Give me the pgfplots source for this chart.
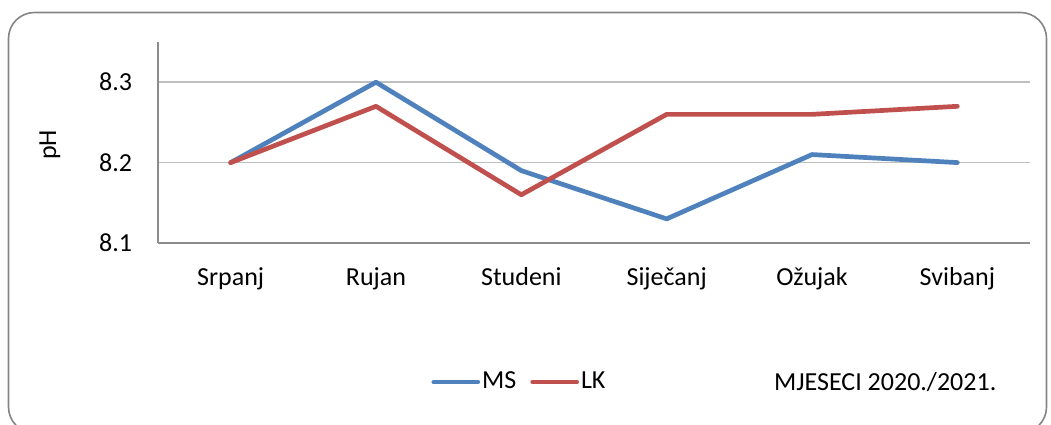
\documentclass[border=0pt]{standalone}
\usepackage{fontspec}
\setmainfont{Carlito}
\usepackage{pgfplots}
\pgfplotsset{compat=1.18}
\definecolor{msblue}{HTML}{4F81BD}
\definecolor{lkred}{HTML}{C0504D}
\begin{document}
\fontsize{26}{31}\selectfont
\begin{tikzpicture}[x=1pt,y=1pt]
\useasboundingbox (0,0) rectangle (1051,425);
\draw[color=black!48, line width=1.6pt, rounded corners=26pt] (8.5,412.5) rectangle (1046.5,-8);
\begin{axis}[
  at={(158pt,182pt)}, anchor=south west,
  scale only axis, width=872pt, height=201pt,
  xmin=-0.5, xmax=5.5, ymin=8.1, ymax=8.35,
  xtick={0,1,2,3,4,5},
  xticklabels={Srpanj,Rujan,Studeni,Siječanj,Ožujak,Svibanj},
  ytick={8.1,8.2,8.3}, yticklabels={8.1,8.2,8.3},
  ymajorgrids, grid style={color=black!25, line width=1.5pt},
  axis lines*=left,
  axis line style={color=black!45, line width=1.5pt, -},
  major tick length=0pt,
  tick label style={font=\fontsize{26}{31}\selectfont},
  xticklabel style={yshift=-16pt},
  yticklabel style={xshift=-17pt},
  ylabel={pH},
  ylabel style={at={(axis description cs:-0.124,0.4876)}, anchor=center, font=\fontsize{26}{31}\selectfont},
  xlabel={MJESECI 2020./2021.},
  xlabel style={at={(axis description cs:0.834,-0.692)}, anchor=center, font=\fontsize{26}{31}\selectfont},
  legend style={at={(axis description cs:0.4145,-0.692)}, anchor=center, draw=none, fill=none,
    font=\fontsize{26}{31}\selectfont, /tikz/every even column/.append style={column sep=12pt}},
  legend columns=2,
  legend image code/.code={\draw[#1] (0pt,0pt) -- (44pt,0pt);},
  every axis plot/.append style={line width=4.7pt, line cap=round, line join=round},
]
\addplot[color=msblue] coordinates {(0,8.20) (1,8.30) (2,8.19) (3,8.13) (4,8.21) (5,8.20)};
\addlegendentry{MS}
\addplot[color=lkred] coordinates {(0,8.20) (1,8.27) (2,8.16) (3,8.26) (4,8.26) (5,8.27)};
\addlegendentry{LK}
\end{axis}
\end{tikzpicture}
\end{document}
